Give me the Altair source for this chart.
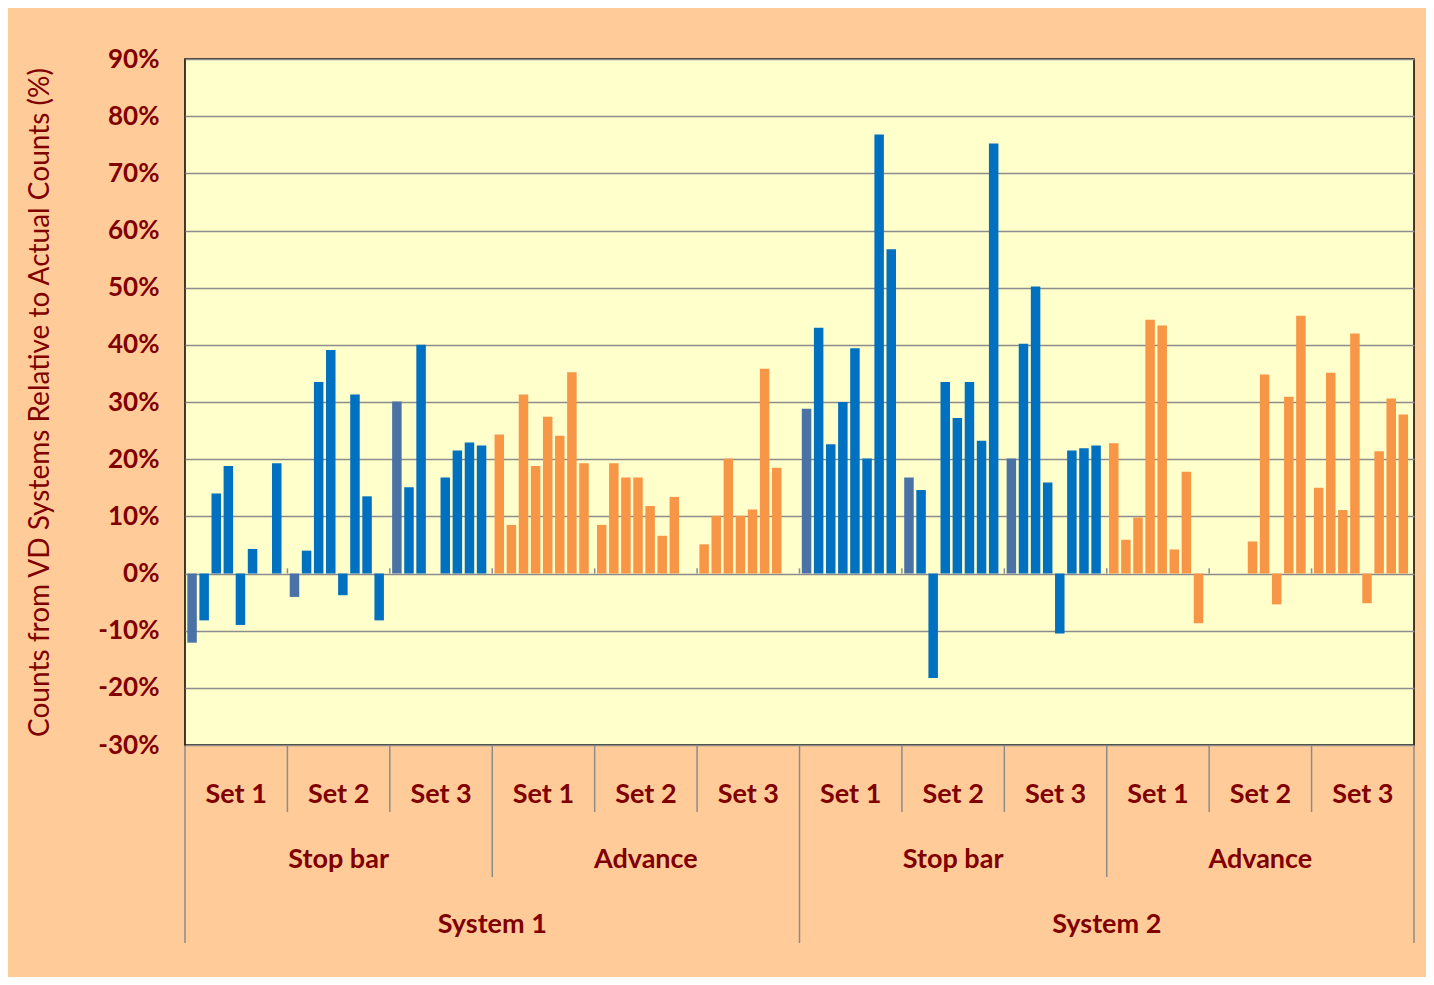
import altair as alt
import pandas as pd

# ---- data (percent values; None = no bar) ----
systems = ["System 1", "System 2"]
locations = ["Stop bar", "Advance"]
sets = ["Set 1", "Set 2", "Set 3"]

s1_stop_set1 = [-12.1, -8.2, 14.0, 18.8, -9.0, 4.3, None, 19.3]
s1_stop_set2 = [-4.1, 4.0, 33.5, 39.1, -3.8, 31.3, 13.5, -8.2]
s1_stop_set3 = [30.1, 15.1, 40.0, None, 16.8, 21.5, 22.9, 22.4]
s1_adv_set1 = [24.3, 8.5, 31.3, 18.8, 27.4, 24.1, 35.2, 19.3]
s1_adv_set2 = [8.5, 19.3, 16.8, 16.8, 11.8, 6.6, 13.4, None]
s1_adv_set3 = [5.1, 10.1, 20.1, 10.1, 11.2, 35.8, 18.5, None]
s2_stop_set1 = [28.8, 43.0, 22.6, 30.0, 39.4, 20.1, 76.8, 56.7]
s2_stop_set2 = [16.8, 14.6, -18.3, 33.5, 27.2, 33.5, 23.2, 75.2]
s2_stop_set3 = [20.1, 40.2, 50.2, 15.9, -10.5, 21.5, 21.9, 22.4]
s2_adv_set1 = [22.8, 5.9, 9.8, 44.4, 43.4, 4.2, 17.8, -8.7]
s2_adv_set2 = [None, None, None, 5.6, 34.8, -5.4, 30.9, 45.1]
s2_adv_set3 = [15.0, 35.1, 11.1, 42.0, -5.2, 21.4, 30.6, 27.8]

series = {
    ("System 1", "Stop bar"): [s1_stop_set1, s1_stop_set2, s1_stop_set3],
    ("System 1", "Advance"): [s1_adv_set1, s1_adv_set2, s1_adv_set3],
    ("System 2", "Stop bar"): [s2_stop_set1, s2_stop_set2, s2_stop_set3],
    ("System 2", "Advance"): [s2_adv_set1, s2_adv_set2, s2_adv_set3],
}

y_ticks = [-30, -20, -10, 0, 10, 20, 30, 40, 50, 60, 70, 80, 90]

# ---- tables ----
group_order = []
rows = []
for sysname in systems:
    for loc in locations:
        for k, setname in enumerate(sets):
            g = f"{sysname}|{loc}|{setname}"
            group_order.append(g)
            for slot, v in enumerate(series[(sysname, loc)][k]):
                if v is None:
                    continue
                kind = loc if not (loc == "Stop bar" and slot == 0) else "Stop bar first"
                rows.append({"grp": g, "slot": slot, "value": v, "kind": kind})
bars_df = pd.DataFrame(rows)

set_lab = pd.DataFrame({"grp": group_order, "label": [g.split("|")[2] for g in group_order]})
loc_lab = pd.DataFrame({"grp": [group_order[i] for i in (1, 4, 7, 10)],
                        "label": [group_order[i].split("|")[1] for i in (1, 4, 7, 10)]})
sys_lab = pd.DataFrame({"grp": [group_order[i] for i in (2, 8)],
                        "label": [group_order[i].split("|")[0] for i in (2, 8)]})

bound_rows = []
for i, g in enumerate(group_order):
    if i % 6 == 0:
        level = 3
    elif i % 3 == 0:
        level = 2
    else:
        level = 1
    bound_rows.append({"grp": g, "level": level})
bounds_df = pd.DataFrame(bound_rows)

DARK_RED = "#800000"
FONT = "Lato"
GRID = "#8C8C8C"

xscale = alt.Scale(domain=group_order, paddingInner=0, paddingOuter=0)

bars = alt.Chart(bars_df).mark_bar().encode(
    x=alt.X("grp:N", scale=xscale, axis=None),
    xOffset=alt.XOffset("slot:O", scale=alt.Scale(domain=list(range(8)), paddingInner=0.215,
                                                  paddingOuter=0.34, align=0.28)),
    y=alt.Y("value:Q", scale=alt.Scale(domain=[-30, 90], nice=False, zero=False),
            axis=alt.Axis(values=y_ticks, labelExpr="datum.value + '%'", ticks=False,
                          domain=False, labelPadding=26, labelFontSize=26,
                          labelFontWeight="bold", labelColor=DARK_RED, labelFont=FONT,
                          grid=True, gridColor=GRID, gridWidth=1.5,
                          title="Counts from VD Systems Relative to Actual Counts (%)",
                          titleFont=FONT, titleFontSize=28, titleFontWeight="normal",
                          titleColor=DARK_RED, titleAngle=-90, titleAlign="center",
                          titleBaseline="middle", titleX=-145, titleY=343)),
    color=alt.Color("kind:N", scale=alt.Scale(domain=["Stop bar first", "Stop bar", "Advance"],
                                              range=["#4A72A6", "#0070C0", "#F79646"]),
                    legend=None),
)

zero_ticks = alt.Chart(bounds_df.iloc[1:]).mark_rule(color=GRID, strokeWidth=1.5).encode(
    x=alt.X("grp:N", scale=xscale, bandPosition=0),
    y=alt.datum(0),
    y2=alt.datum(0.9),
)

# boundary lines under the plot; length depends on the level of the category hierarchy
rule_ends = {1: 753, 2: 818, 3: 884}
rule_layers = []
for level, end in rule_ends.items():
    sub = bounds_df[bounds_df["level"] == level]
    rule_layers.append(
        alt.Chart(sub).mark_rule(color=GRID, strokeWidth=1.5).encode(
            x=alt.X("grp:N", scale=xscale, bandPosition=0),
            y=alt.value(687), y2=alt.value(end)))
right_edge = alt.Chart(pd.DataFrame({"grp": [group_order[-1]]})).mark_rule(
    color=GRID, strokeWidth=1.5).encode(
    x=alt.X("grp:N", scale=xscale, bandPosition=1),
    y=alt.value(687), y2=alt.value(884))

txt = dict(font=FONT, fontSize=27, fontWeight="bold", color=DARK_RED, baseline="middle", align="center")
set_text = alt.Chart(set_lab).mark_text(**txt).encode(
    x=alt.X("grp:N", scale=xscale), y=alt.value(736), text="label:N")
loc_text = alt.Chart(loc_lab).mark_text(**txt).encode(
    x=alt.X("grp:N", scale=xscale), y=alt.value(801), text="label:N")
sys_text = alt.Chart(sys_lab).mark_text(**txt).encode(
    x=alt.X("grp:N", scale=xscale, bandPosition=1), y=alt.value(866), text="label:N")

chart = alt.layer(bars, zero_ticks, *rule_layers, right_edge, set_text, loc_text, sys_text).properties(
    width=1229, height=686,
    autosize=alt.AutoSizeParams(type="none"),
    padding={"left": 177, "top": 51, "right": 12, "bottom": 232},
    background="#FFCC99",
).configure_view(fill="#FFFFCC", stroke="black", strokeWidth=1.5)

chart.save("out.html", embed_options={"renderer": "svg", "actions": False})
